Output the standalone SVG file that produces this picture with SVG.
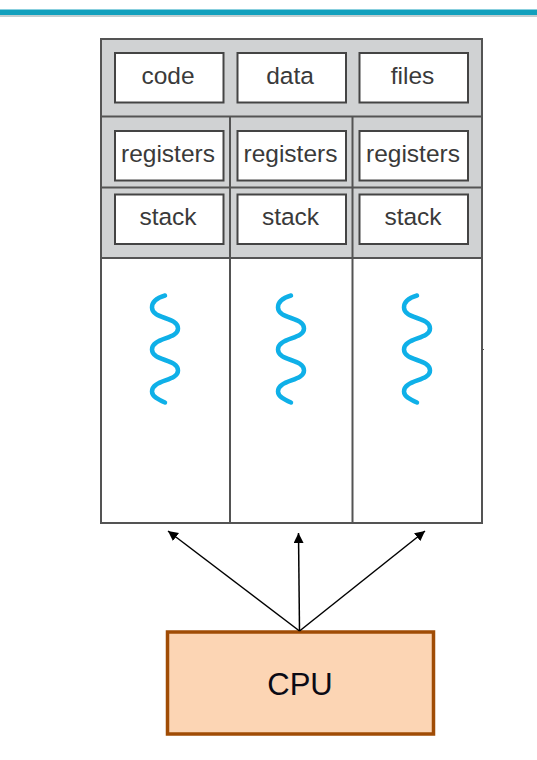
<svg xmlns="http://www.w3.org/2000/svg" width="537" height="760" viewBox="0 0 537 760">
<style>
.grey{fill:#d0d2d3}
.frame{fill:none;stroke:#545454;stroke-width:2}
.box{fill:#fff;stroke:#444;stroke-width:2}
.lbl{font-family:"Liberation Sans",Arial,sans-serif;font-size:24.500px;fill:#3a3a3a;text-anchor:middle}
.wave{fill:none;stroke:#0fb0e8;stroke-width:4.500;stroke-linecap:round}
.arrow{fill:none;stroke:#000;stroke-width:1.500;marker-end:url(#ah)}
</style>
<defs>
<marker id="ah" markerUnits="userSpaceOnUse" markerWidth="11" markerHeight="11" refX="10" refY="5" orient="auto"><path d="M0 0L10 5L0 10Z" fill="#000"/></marker>
<path id="w" d="M0 0C-7 2-13 6-13 12C-13 24 13 21 13 33C13 44-13 42-13 54C-13 66 13 63 13 75C13 86-13 84-13 96C-13 101-7 104 0 107"/>
</defs>
<rect x="0" y="9.500" width="537" height="5.500" fill="#12a0bd"/>
<rect x="0" y="15" width="537" height="2" fill="#c3ced0"/>
<g id="process">
<rect class="grey" x="101" y="39" width="381" height="219"/>
<rect x="101" y="258" width="381" height="265" fill="#fff"/>
<rect class="frame" x="101" y="39" width="381" height="484"/>
<path class="frame" d="M101 116.500H482M101 187.500H482M101 258H482M230 116.500V523M352.500 116.500V523"/>
<path d="M481 349.500h3" stroke="#545454" stroke-width="1"/>
</g>
<g id="code"><rect class="box" x="115" y="53" width="108.500" height="49.500"/><text class="lbl" x="168" y="84">code</text></g>
<g id="data"><rect class="box" x="237.500" y="53" width="108.500" height="49.500"/><text class="lbl" x="290" y="84">data</text></g>
<g id="files"><rect class="box" x="359.500" y="53" width="108.500" height="49.500"/><text class="lbl" x="412.500" y="84">files</text></g>
<g id="registers1"><rect class="box" x="115" y="131" width="108.500" height="49.500"/><text class="lbl" x="168" y="162">registers</text></g>
<g id="registers2"><rect class="box" x="237.500" y="131" width="108.500" height="49.500"/><text class="lbl" x="290.500" y="162">registers</text></g>
<g id="registers3"><rect class="box" x="359.500" y="131" width="108.500" height="49.500"/><text class="lbl" x="413" y="162">registers</text></g>
<g id="stack1"><rect class="box" x="115" y="194.500" width="108.500" height="49.500"/><text class="lbl" x="168" y="225">stack</text></g>
<g id="stack2"><rect class="box" x="237.500" y="194.500" width="108.500" height="49.500"/><text class="lbl" x="290.500" y="225">stack</text></g>
<g id="stack3"><rect class="box" x="359.500" y="194.500" width="108.500" height="49.500"/><text class="lbl" x="413" y="225">stack</text></g>
<g id="thread1"><use href="#w" class="wave" x="165" y="295.500"/></g>
<g id="thread2"><use href="#w" class="wave" x="291" y="295.500"/></g>
<g id="thread3"><use href="#w" class="wave" x="417" y="295.500"/></g>
<g id="cpu"><rect x="167.500" y="632" width="266" height="102" fill="#fcd5b4" stroke="#a04c05" stroke-width="3.500"/><text x="300" y="695" font-family="'Liberation Sans',Arial,sans-serif" font-size="31" fill="#0a0a14" text-anchor="middle">CPU</text></g>
<g id="connectors">
<path class="arrow" d="M299.500 631L168 531"/>
<path class="arrow" d="M299.500 631L298.500 533"/>
<path class="arrow" d="M299.500 631L425 531"/>
</g>
</svg>
